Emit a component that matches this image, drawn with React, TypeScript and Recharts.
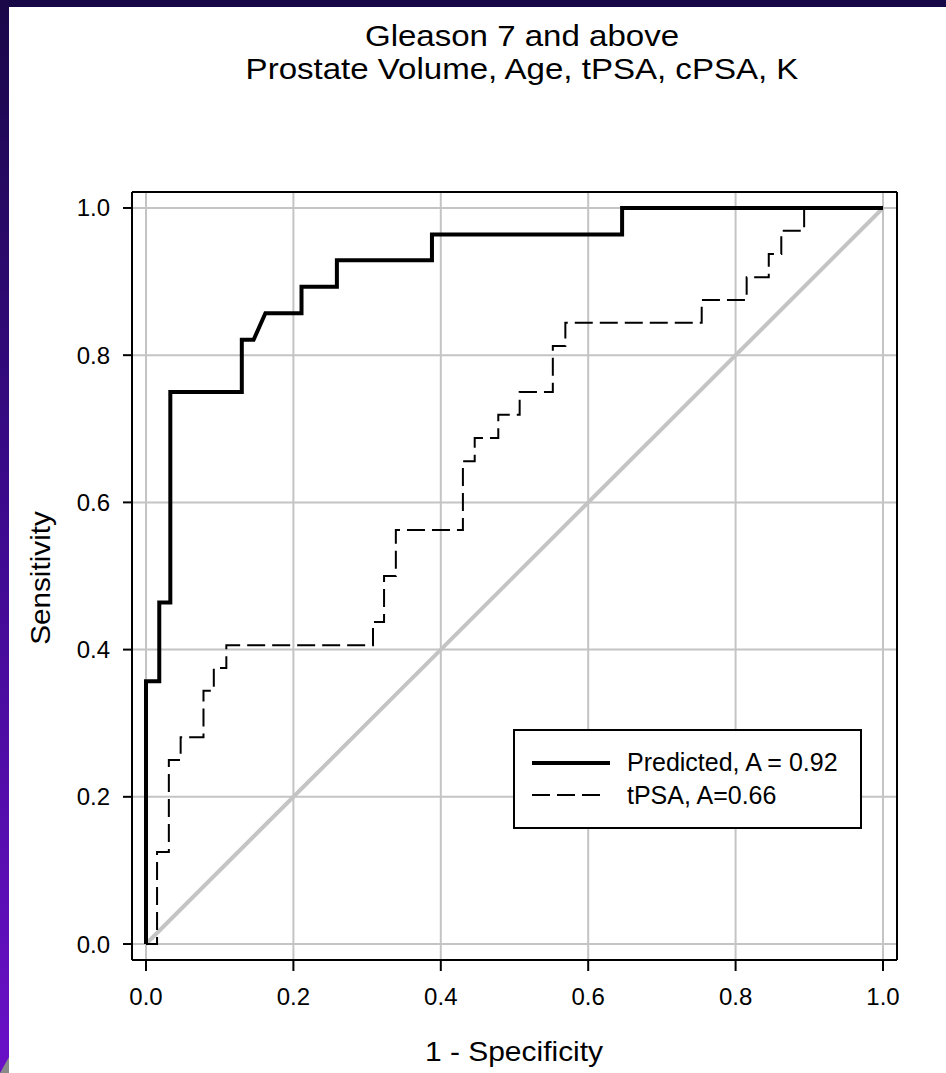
import React from 'react';
import { LineChart, Line, XAxis, YAxis, CartesianGrid, Legend } from 'recharts';

// ---------- data ----------
const titleLines = ['Gleason 7 and above', 'Prostate Volume, Age, tPSA, cPSA, K'];
const xAxisTitle = '1 - Specificity';
const yAxisTitle = 'Sensitivity';
const tickValues = [0, 0.2, 0.4, 0.6, 0.8, 1.0];

// ROC curve of the predicted model (1 - specificity, sensitivity) corners
const predictedFpr = [0, 0, 0.018, 0.018, 0.033, 0.033, 0.13, 0.13, 0.146, 0.162, 0.211, 0.211, 0.259, 0.259, 0.388, 0.388, 0.646, 0.646, 1.0];
const predictedTpr = [0, 0.357, 0.357, 0.464, 0.464, 0.75, 0.75, 0.821, 0.821, 0.857, 0.857, 0.893, 0.893, 0.929, 0.929, 0.964, 0.964, 1.0, 1.0];

// ROC curve of tPSA alone
const tpsaFpr = [0, 0.015, 0.015, 0.031, 0.031, 0.047, 0.047, 0.078, 0.078, 0.092, 0.092, 0.109, 0.109, 0.308, 0.308, 0.323, 0.323, 0.339, 0.339, 0.43, 0.43, 0.446, 0.446, 0.478, 0.478, 0.507, 0.507, 0.552, 0.552, 0.569, 0.569, 0.754, 0.754, 0.815, 0.815, 0.845, 0.845, 0.862, 0.862, 0.893, 0.893, 1.0];
const tpsaTpr = [0, 0, 0.125, 0.125, 0.25, 0.25, 0.281, 0.281, 0.344, 0.344, 0.375, 0.375, 0.406, 0.406, 0.4375, 0.4375, 0.5, 0.5, 0.5625, 0.5625, 0.656, 0.656, 0.6875, 0.6875, 0.719, 0.719, 0.75, 0.75, 0.8125, 0.8125, 0.844, 0.844, 0.875, 0.875, 0.906, 0.906, 0.9375, 0.9375, 0.969, 0.969, 1.0, 1.0];

// chance line
const chanceFpr = [0, 1];
const chanceTpr = [0, 1];

const seriesNames = ['Predicted, A = 0.92', 'tPSA, A=0.66'];

// ---------- helpers ----------
const toPoints = (xs: number[], ys: number[]) => xs.map((x, i) => ({ x, y: ys[i] }));
const predictedData = toPoints(predictedFpr, predictedTpr);
const tpsaData = toPoints(tpsaFpr, tpsaTpr);
const chanceData = toPoints(chanceFpr, chanceTpr);

const FONT = '"Liberation Sans", Arial, Helvetica, sans-serif';
const X_DOMAIN: [number, number] = [-0.019, 1.019];
const Y_DOMAIN: [number, number] = [-0.0217, 1.0217];
const W = 946;
const H = 1073;

const legendSeries = [
  { name: seriesNames[0], width: 4, dash: undefined as string | undefined, x2: 97 },
  { name: seriesNames[1], width: 2, dash: '18 7', x2: 87 },
];

const renderLegend = () => (
  <svg width={349} height={100} style={{ display: 'block' }}>
    <rect x={1} y={1} width={347} height={98} fill="#fff" stroke="#000" strokeWidth={2} />
    {legendSeries.map((s, i) => (
      <g key={s.name}>
        <line
          x1={19}
          x2={s.x2}
          y1={34 + i * 32}
          y2={34 + i * 32}
          stroke="#000"
          strokeWidth={s.width}
          strokeDasharray={s.dash}
        />
        <text x={114} y={42 + i * 33} fontSize={25} fontFamily={FONT} fill="#000">
          {s.name}
        </text>
      </g>
    ))}
  </svg>
);

export default function App() {
  const axisLine = { stroke: '#000', strokeWidth: 2 };
  return (
    <div style={{ position: 'absolute', left: 0, top: 0, width: W, height: H, background: '#170746', overflow: 'hidden' }}>
      <div
        style={{
          position: 'absolute',
          left: 0,
          top: 0,
          width: 9,
          height: H,
          background: 'linear-gradient(to bottom, #1a0848 0%, #3a0a8a 45%, #6a10c8 100%)',
        }}
      />
      <div
        style={{
          position: 'absolute',
          left: 0,
          top: H - 16,
          width: 9,
          height: 16,
          background: '#8a8a8a',
          clipPath: 'polygon(0 100%, 100% 0, 100% 100%)',
        }}
      />
      <div style={{ position: 'absolute', left: 9, top: 7, width: W - 9, height: H - 7, background: '#fff' }} />
      <div style={{ position: 'absolute', left: 0, top: 0 }}>
        <LineChart width={W} height={H} margin={{ top: 191, right: 48, bottom: 112, left: 131 }}>
          <CartesianGrid stroke="#c4c4c4" strokeWidth={2} />
          <XAxis
            dataKey="x"
            type="number"
            domain={X_DOMAIN}
            allowDataOverflow
            ticks={tickValues}
            interval={0}
            height={1}
            tickSize={11}
            tickMargin={17}
            axisLine={axisLine}
            tickLine={axisLine}
            tick={{ fill: '#000', fontSize: 24, fontFamily: FONT }}
            tickFormatter={(v: number) => v.toFixed(1)}
          />
          <XAxis
            xAxisId="top"
            orientation="top"
            dataKey="x"
            type="number"
            domain={X_DOMAIN}
            allowDataOverflow
            height={1}
            tick={false}
            tickLine={false}
            axisLine={axisLine}
          />
          <YAxis
            type="number"
            domain={Y_DOMAIN}
            allowDataOverflow
            ticks={tickValues}
            interval={0}
            width={1}
            tickSize={9}
            tickMargin={13}
            axisLine={axisLine}
            tickLine={axisLine}
            tick={{ fill: '#000', fontSize: 24, fontFamily: FONT }}
            tickFormatter={(v: number) => v.toFixed(1)}
          />
          <YAxis
            yAxisId="right"
            orientation="right"
            type="number"
            domain={Y_DOMAIN}
            allowDataOverflow
            width={1}
            tick={false}
            tickLine={false}
            axisLine={axisLine}
          />
          <Legend
            layout="vertical"
            align="center"
            verticalAlign="middle"
            content={renderLegend}
            wrapperStyle={{ position: 'absolute', left: 513, top: 729, width: 349, height: 100 }}
          />
          <Line
            data={chanceData}
            dataKey="y"
            name="chance"
            type="linear"
            stroke="#c4c4c4"
            strokeWidth={4}
            dot={false}
            activeDot={false}
            legendType="none"
            isAnimationActive={false}
          />
          <Line
            data={tpsaData}
            dataKey="y"
            name={seriesNames[1]}
            type="linear"
            stroke="#000"
            strokeWidth={2}
            strokeDasharray="18 7"
            dot={false}
            activeDot={false}
            isAnimationActive={false}
          />
          <Line
            data={predictedData}
            dataKey="y"
            name={seriesNames[0]}
            type="linear"
            stroke="#000"
            strokeWidth={4}
            strokeLinejoin="miter"
            dot={false}
            activeDot={false}
            isAnimationActive={false}
          />
        </LineChart>
      </div>
      <svg width={W} height={H} style={{ position: 'absolute', left: 0, top: 0, pointerEvents: 'none' }}>
        <text transform="translate(522, 46) scale(1.14, 1)" textAnchor="middle" fontSize={29} fontFamily={FONT} fill="#000">
          {titleLines[0]}
        </text>
        <text transform="translate(522, 79) scale(1.14, 1)" textAnchor="middle" fontSize={29} fontFamily={FONT} fill="#000">
          {titleLines[1]}
        </text>
        <text transform="translate(514, 1061) scale(1.11, 1)" textAnchor="middle" fontSize={27} fontFamily={FONT} fill="#000">
          {xAxisTitle}
        </text>
        <text transform="translate(50, 578) rotate(-90) scale(1.1, 1)" textAnchor="middle" fontSize={27} fontFamily={FONT} fill="#000">
          {yAxisTitle}
        </text>
      </svg>
    </div>
  );
}
